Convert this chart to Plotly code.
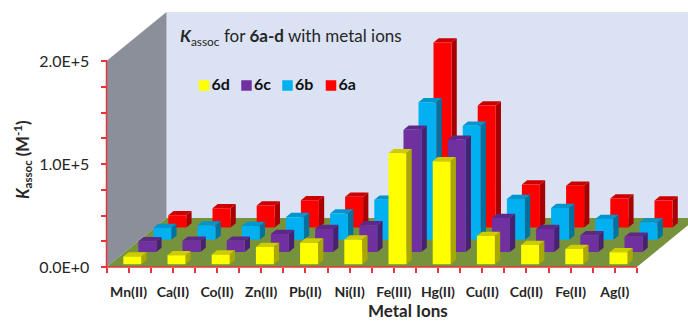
import plotly.graph_objects as go

metals = ["Mn(II)", "Ca(II)", "Co(II)", "Zn(II)", "Pb(II)", "Ni(II)", "Fe(III)", "Hg(II)", "Cu(II)", "Cd(II)", "Fe(II)", "Ag(I)"]
k_6d = [7500, 8700, 9400, 16800, 21000, 24000, 107800, 100000, 27500, 18700, 14900, 11600]
k_6c = [10400, 11000, 11000, 17500, 22300, 25900, 118800, 109100, 33000, 22300, 16200, 14900]
k_6b = [11400, 13900, 13300, 22000, 25500, 38800, 133600, 110700, 39500, 30800, 20100, 16800]
k_6a = [11900, 18700, 21400, 26500, 29800, 36900, 179600, 118400, 41700, 40500, 28200, 26200]
y_major = [0, 100000, 200000]
y_major_labels = ["0.0E+0", "1.0E+5", "2.0E+5"]
y_minor = [25000, 50000, 75000, 125000, 150000, 175000]

W, H = 688, 322
X0_PX, Y0_PX = 106.5, 267.0
CAT_PX = 44.2
VAL_PER_PX = 970.9
DEPTH_X = 60 / CAT_PX
DEPTH_Y = 49 * VAL_PER_PX
N = len(metals)
YMAX = 200000
RED_AXIS = "#E8343A"
TEXT = "#262626"
FONT = "Lato"


def proj(x, v, d):
    return x + d * DEPTH_X, v + d * DEPTH_Y


def poly(points):
    xs, ys = [], []
    for x, v, d in points:
        px, py = proj(x, v, d)
        xs.append(px)
        ys.append(py)
    xs.append(xs[0])
    ys.append(ys[0])
    return xs, ys


fig = go.Figure()


def add_poly(xs, ys, color, name=""):
    fig.add_trace(go.Scatter(x=xs, y=ys, mode="lines", fill="toself", fillcolor=color,
                             line=dict(width=0, color=color), hoverinfo="skip",
                             showlegend=False, name=name))


# walls and floor
add_poly(*poly([(0, 0, 1), (N, 0, 1), (N, YMAX, 1), (0, YMAX, 1)]), "#DAE2F3")
add_poly(*poly([(0, 0, 0), (0, YMAX, 0), (0, YMAX, 1), (0, 0, 1)]), "#8A8F9A")
add_poly(*poly([(0, 0, 0), (N, 0, 0), (N, 0, 1), (0, 0, 1)]), "#76923C")

series = [
    ("6a", k_6a, 3, "#FF0000", "#A80000", "#CC0000"),
    ("6b", k_6b, 2, "#00B0F0", "#0072A0", "#0095CC"),
    ("6c", k_6c, 1, "#7030A0", "#4A2070", "#5E2888"),
    ("6d", k_6d, 0, "#FFFF00", "#A8A800", "#CCCC00"),
]
BAR_OFF = 13.5 / CAT_PX
BAR_W = 18 / CAT_PX
BAR_D = 4.3 / 49


def merged(vals, row, face):
    xs, ys = [], []
    d0 = (2.7 + 12.25 * row) / 49
    d1 = d0 + BAR_D
    for i, v in enumerate(vals):
        a = i + BAR_OFF
        b = a + BAR_W
        if face == "front":
            p = [(a, 0, d0), (b, 0, d0), (b, v, d0), (a, v, d0)]
        elif face == "side":
            p = [(b, 0, d0), (b, 0, d1), (b, v, d1), (b, v, d0)]
        else:
            p = [(a, v, d0), (b, v, d0), (b, v, d1), (a, v, d1)]
        px, py = poly(p)
        xs += px + [None]
        ys += py + [None]
    return xs, ys


for name, vals, row, c_front, c_side, c_top in series:
    add_poly(*merged(vals, row, "side"), c_side, name)
    add_poly(*merged(vals, row, "top"), c_top, name)
    add_poly(*merged(vals, row, "front"), c_front, name)

# axis lines
fig.add_trace(go.Scatter(x=[0, 0, N], y=[YMAX, 0, 0], mode="lines",
                         line=dict(color=RED_AXIS, width=1.5), hoverinfo="skip", showlegend=False))


def px_x(p):
    return (p - X0_PX) / CAT_PX


def px_y(p):
    return (Y0_PX - p) * VAL_PER_PX


# key
key_left = [204, 246.5, 287.5, 331]
for left, (name, _, _, c_front, _, _) in zip(key_left, reversed(series)):
    fig.add_trace(go.Scatter(x=[px_x(left)], y=[px_y(85.5)], mode="markers+text", name=name,
                             marker=dict(symbol="square", size=10.5, color=c_front, line=dict(width=0)),
                             text=["<b>" + name + "</b>"], textposition="middle right",
                             textfont=dict(family=FONT, size=16, color="#111111"),
                             hoverinfo="skip", showlegend=False))

x_centers = [i + 0.5 for i in range(N)]
x_edges = [float(i) for i in range(N + 1)]

fig.update_layout(
    width=W, height=H, margin=dict(l=0, r=0, t=0, b=0, pad=0),
    paper_bgcolor="white", plot_bgcolor="white", showlegend=False,
    font=dict(family=FONT, color=TEXT),
    xaxis=dict(range=[px_x(0), px_x(W)], domain=[0, 1], anchor="free", position=(H - Y0_PX) / H,
               tickmode="array", tickvals=x_centers, ticktext=metals, ticks="outside",
               ticklen=5, tickwidth=1.5, tickcolor=RED_AXIS, showgrid=False, zeroline=False,
               showline=False, tickangle=0, ticklabelstandoff=7,
               minor=dict(tickmode="array", tickvals=x_edges, ticks="outside", ticklen=5, tickwidth=1.5,
                          tickcolor=RED_AXIS, showgrid=False),
               tickfont=dict(family=FONT, size=14, color=TEXT, weight="bold")),
    yaxis=dict(range=[px_y(H), px_y(0)], domain=[0, 1], anchor="free", position=X0_PX / W,
               tickmode="array", tickvals=y_major, ticktext=y_major_labels, ticks="outside",
               ticklen=6, tickwidth=1.5, tickcolor=RED_AXIS, showgrid=False, zeroline=False,
               showline=False, ticklabelstandoff=8,
               minor=dict(tickmode="array", tickvals=y_minor, ticks="outside", ticklen=6, tickwidth=1.5,
                          tickcolor=RED_AXIS, showgrid=False),
               tickfont=dict(family=FONT, size=16, color=TEXT)),
    annotations=[
        dict(xref="paper", yref="paper", x=178 / W, y=1 - 37 / H, xanchor="left", yanchor="middle",
             showarrow=False, align="left",
             text="<b><i>K</i></b><sub>assoc</sub> for <b>6a-d</b> with metal ions",
             font=dict(family=FONT, size=17, color=TEXT)),
        dict(xref="paper", yref="paper", x=408 / W, y=1 - 310.5 / H, xanchor="center", yanchor="middle",
             showarrow=False, text="<b>Metal Ions</b>", borderpad=0,
             font=dict(family=FONT, size=17, color=TEXT)),
        dict(xref="paper", yref="paper", x=22 / W, y=1 - 160 / H, xanchor="center", yanchor="middle",
             showarrow=False, textangle=-90, text="<b><i>K</i><sub>assoc</sub> (M<sup>-1</sup>)</b>",
             font=dict(family=FONT, size=16.5, color=TEXT)),
    ],
)

fig.write_html("out.html", config=dict(displayModeBar=False),
               post_script='document.body.style.margin="0";')
